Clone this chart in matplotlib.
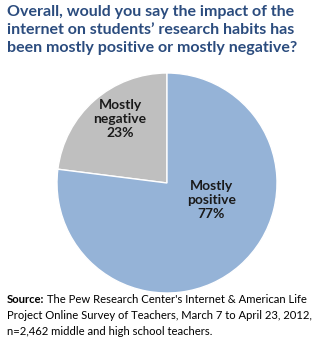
import matplotlib
matplotlib.use("Agg")
import matplotlib.pyplot as plt
import numpy as np

# data
categories = ["Mostly\nnegative", "Mostly\npositive"]
values = [23, 77]
colors = ["#BFBFBF", "#95B3D7"]
title_color = "#2B4C7E"

title = ("Overall, would you say the impact of the\n"
         "internet on students\u2019 research habits has\n"
         "been mostly positive or mostly negative?")
source_lines = ["The Pew Research Center's Internet & American Life",
                "Project Online Survey of Teachers, March 7 to April 23, 2012,",
                "n=2,462 middle and high school teachers."]

W, H = 322, 344
fig = plt.figure(figsize=(W / 100, H / 100), dpi=100, facecolor="white")

# pie axes: center ~ (167, 183) px, radius ~110 px
cx, cy, r = 167, 183, 110
ax = fig.add_axes([(cx - r) / W, (H - cy - r) / H, 2 * r / W, 2 * r / H])
wedges, _ = ax.pie(values, colors=colors, startangle=90, counterclock=True,
                   wedgeprops=dict(edgecolor="white", linewidth=1.0))
ax.set_xlim(-1, 1)
ax.set_ylim(-1, 1)
ax.set_aspect("equal")

# label placement (Excel style), radial fraction and angle shift per wedge
label_r = [0.72, 0.43]
label_shift = [-5, 28]
for w, cat, v, lr, sh in zip(wedges, categories, values, label_r, label_shift):
    ang = np.deg2rad((w.theta1 + w.theta2) / 2 + sh)
    ax.text(lr * np.cos(ang), lr * np.sin(ang), f"{cat}\n{v}%",
            ha="center", va="center", fontsize=10, fontweight="bold",
            family="Lato", color="#1a1a1a", linespacing=1.2)

fig.text(7 / W, 1 - 5 / H, title, ha="left", va="top", fontsize=11.5,
         fontweight="bold", family="Lato", color=title_color, linespacing=1.38)

# source note
fs = 8.1
y0 = 1 - 294 / H
dy = 16 / H
src = fig.text(7 / W, y0, "Source:", ha="left", va="top", fontsize=fs,
               fontweight="bold", family="Lato", color="black")
fig.canvas.draw()
bb = src.get_window_extent(renderer=fig.canvas.get_renderer())
x_rest = (bb.x1 + 3) / W
fig.text(x_rest, y0, source_lines[0], ha="left", va="top", fontsize=fs,
         family="Lato", color="black")
for i, line in enumerate(source_lines[1:], start=1):
    fig.text(7 / W, y0 - i * dy, line, ha="left", va="top", fontsize=fs,
             family="Lato", color="black")

fig.savefig("out.png", dpi=100, facecolor="white")
